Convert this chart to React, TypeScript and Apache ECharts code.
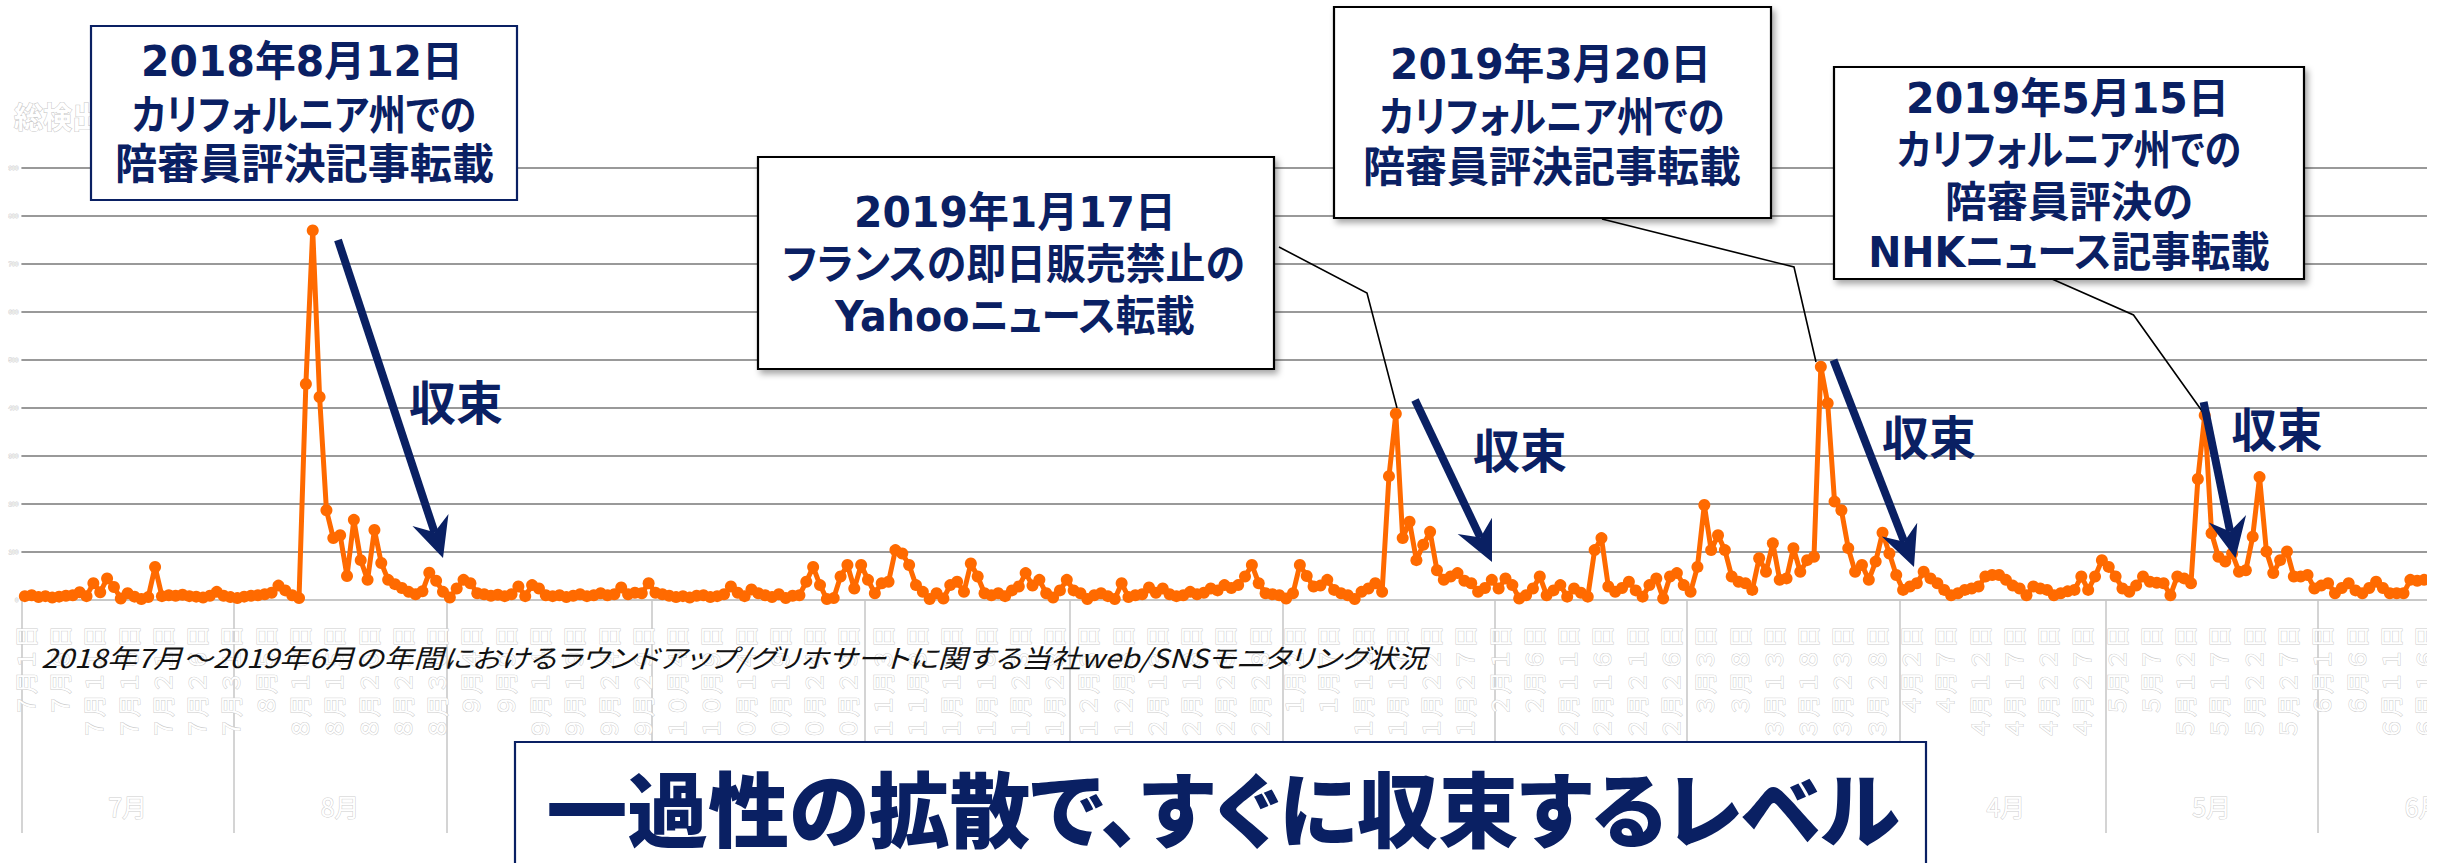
import React, { useEffect, useRef } from 'react';
import * as echarts from 'echarts';

// ---------- data ----------
const monthNumbers = [7, 8, 9, 10, 11, 12, 1, 2, 3, 4, 5, 6];
const monthLengths = [31, 31, 30, 31, 30, 31, 31, 28, 31, 30, 31, 30];
const yAxisMax = 900;
const yAxisStep = 100;

// daily detections from 2018-07-01 (the picture is cut off after 2019-06-16)
const detections: number[] = [
  8, 10, 6, 8, 5, 7, 9, 10, 16, 8,
  35, 16, 45, 27, 3, 14, 7, 2, 6, 69,
  8, 10, 9, 11, 8, 7, 5, 9, 17, 9,
  6, 4, 7, 9, 10, 12, 15, 30, 20, 10,
  4, 450, 770, 423, 187, 129, 135, 50, 167, 83,
  42, 146, 77, 42, 33, 25, 17, 12, 18, 57,
  40, 17, 5, 24, 42, 35, 14, 12, 9, 11,
  8, 12, 28, 8, 31, 24, 10, 8, 10, 6,
  9, 12, 8, 10, 14, 10, 12, 26, 12, 15,
  14, 35, 15, 12, 9, 6, 8, 5, 9, 10,
  6, 8, 12, 28, 15, 8, 22, 14, 10, 6,
  12, 4, 9, 10, 38, 69, 31, 2, 4, 49,
  73, 24, 73, 42, 14, 35, 38, 104, 97, 73,
  31, 17, 2, 14, 3, 31, 38, 17, 76, 49,
  14, 10, 14, 8, 20, 28, 56, 30, 42, 14,
  5, 20, 42, 20, 14, 2, 10, 14, 8, 2,
  35, 6, 10, 12, 26, 15, 24, 12, 8, 10,
  17, 12, 15, 24, 20, 31, 25, 31, 49, 73,
  35, 14, 12, 10, 3, 14, 73, 50, 28, 30,
  42, 21, 14, 10, 2, 17, 24, 35, 17, 258,
  388, 129, 163, 83, 115, 142, 62, 42, 49, 56,
  40, 35, 17, 25, 42, 24, 45, 31, 3, 10,
  24, 49, 10, 20, 31, 7, 24, 15, 7, 104,
  129, 28, 17, 25, 38, 20, 7, 31, 45, 3,
  49, 56, 31, 17, 69, 198, 104, 135, 104, 49,
  38, 35, 21, 87, 59, 118, 42, 45, 108, 59,
  83, 90, 486, 410, 205, 187, 108, 59, 73, 42,
  80, 140, 97, 52, 21, 28, 35, 59, 45, 35,
  21, 10, 14, 21, 24, 28, 49, 52, 52, 42,
  30, 24, 10, 28, 24, 21, 10, 14, 18, 21,
  49, 21, 49, 83, 69, 49, 24, 17, 30, 49,
  38, 36, 35, 10, 49, 45, 35, 252, 385, 139,
  90, 80, 97, 59, 62, 132, 256, 101, 56, 83,
  101, 49, 49, 52, 24, 30, 35, 14, 25, 35,
  20, 14, 25, 38, 25, 14, 14, 14, 42, 40, 42,
];

const calloutAug = ['2018年8月12日', 'カリフォルニア州での', '陪審員評決記事転載'];
const calloutJan = ['2019年1月17日', 'フランスの即日販売禁止の', 'Yahooニュース転載'];
const calloutMar = ['2019年3月20日', 'カリフォルニア州での', '陪審員評決記事転載'];
const calloutMay = ['2019年5月15日', 'カリフォルニア州での', '陪審員評決の', 'NHKニュース記事転載'];
const convergeLabel = '収束';
const subtitle =
  '2018年7月～2019年6月の年間におけるラウンドアップ/グリホサートに関する当社web/SNSモニタリング状況';
const conclusion = '一過性の拡散で、すぐに収束するレベル';
const yAxisTitle = '総検出件数';

// ---------- categories ----------
const toWide = (n: number) =>
  String(n).replace(/[0-9]/g, (c) => String.fromCharCode(c.charCodeAt(0) + 0xfee0));
const categories: string[] = [];
const monthStart = new Set<number>();
const monthMid = new Map<number, string>();
monthNumbers.forEach((m, k) => {
  const start = categories.length;
  monthStart.add(start);
  monthMid.set(start + Math.floor(monthLengths[k] / 2), `${m}月`);
  for (let d = 1; d <= monthLengths[k]; d++) categories.push(`${toWide(m)}月${toWide(d)}日`);
});
const seriesData = categories.map((_, i) => (i < detections.length ? detections[i] : null));

// ---------- layout ----------
const W = 2450;
const H = 863;
const GRID_LEFT = 21.4;
const GRID_TOP = 168;
const AXIS_Y = 600;
const DAY_W = 6.855;
const CHART_W = Math.ceil(GRID_LEFT + DAY_W * categories.length) + 4;
const NAVY = '#0a2063';
const ORANGE = '#ff6a00';
// PaltOn is a marker family (not installed) that switches on proportional kana via CSS
const JP = '"Noto Sans CJK JP", PaltOn, sans-serif';
const BOX_FONT = 'bold 42px "DejaVu Sans", "Noto Sans CJK JP", PaltOn, sans-serif';

export default function App() {
  const ref = useRef<HTMLDivElement>(null);

  useEffect(() => {
    const el = ref.current;
    if (!el) return;
    const chart = echarts.init(el, undefined, { renderer: 'svg', width: CHART_W, height: H });

    const probe = document.createElement('span');
    probe.style.cssText = 'position:absolute;left:-9999px;top:0;white-space:pre;visibility:hidden;';
    document.body.appendChild(probe);
    const measure = (text: string, font: string) => {
      probe.style.font = font;
      probe.style.fontFeatureSettings = '"palt"';
      probe.textContent = text;
      return probe.getBoundingClientRect().width || 1;
    };

    const fitText = (
      text: string,
      font: string,
      x: number,
      y: number,
      width: number,
      fill: string,
      align: string = 'center',
      z = 120,
      extra: any = {}
    ) => ({
      type: 'text',
      x,
      y,
      scaleX: width / measure(text, font),
      z,
      silent: true,
      style: {
        text,
        font,
        fill,
        textAlign: align,
        textVerticalAlign: 'middle',
        align,
        verticalAlign: 'middle',
        ...extra,
      },
    });

    const box = (x: number, y: number, w: number, h: number, stroke: string, shadow: boolean) => ({
      type: 'rect',
      z: 100,
      silent: true,
      shape: { x, y, width: w, height: h },
      style: {
        fill: '#ffffff',
        stroke,
        lineWidth: 2.2,
        ...(shadow
          ? { shadowBlur: 6, shadowOffsetX: 3, shadowOffsetY: 4, shadowColor: 'rgba(0,0,0,0.35)' }
          : {}),
      },
    });

    const leader = (pts: number[][]) => ({
      type: 'polyline',
      z: 105,
      silent: true,
      shape: { points: pts },
      style: { stroke: '#000000', lineWidth: 1.6, fill: null },
    });

    const arrow = (x1: number, y1: number, x2: number, y2: number) => {
      const dx = x2 - x1;
      const dy = y2 - y1;
      const L = Math.hypot(dx, dy);
      const ux = dx / L;
      const uy = dy / L;
      const px = -uy;
      const py = ux;
      const head = 40;
      const half = 19;
      const notch = 13;
      const bx = x2 - ux * head;
      const by = y2 - uy * head;
      const nx = x2 - ux * (head - notch);
      const ny = y2 - uy * (head - notch);
      return [
        {
          type: 'line',
          z: 110,
          silent: true,
          shape: { x1, y1, x2: nx, y2: ny },
          style: { stroke: NAVY, lineWidth: 8 },
        },
        {
          type: 'polygon',
          z: 111,
          silent: true,
          shape: {
            points: [
              [x2, y2],
              [bx + px * half, by + py * half],
              [nx, ny],
              [bx - px * half, by - py * half],
            ],
          },
          style: { fill: NAVY },
        },
      ];
    };

    const lines = (texts: string[], spec: number[][]) =>
      texts.map((t, i) => fitText(t, BOX_FONT, spec[i][0], spec[i][1], spec[i][2], NAVY));

    const graphics: any[] = [
      // faint y-axis title
      fitText(yAxisTitle, `bold 30px ${JP}`, 14, 115, 145, '#ffffff', 'left', 60, {
        stroke: '#c8c8c8',
        lineWidth: 1.1,
      }),
      // cut-off right edge
      {
        type: 'rect',
        z: 95,
        silent: true,
        shape: { x: 2427, y: 0, width: CHART_W - 2427 + 10, height: H },
        style: { fill: '#ffffff' },
      },
      // callout 1
      box(91, 26, 426, 174, NAVY, false),
      ...lines(calloutAug, [
        [302, 62, 322],
        [304, 115, 344],
        [304.5, 165, 379],
      ]),
      // callout 2
      box(758, 157, 516, 212, '#000000', true),
      ...lines(calloutJan, [
        [1015, 213, 322],
        [1013.5, 265, 463],
        [1015, 317, 360],
      ]),
      leader([
        [1279, 247],
        [1367, 293],
        [1397, 408],
      ]),
      // callout 3
      box(1334, 7, 437, 211, '#000000', true),
      ...lines(calloutMar, [
        [1550.5, 65, 321],
        [1552, 117, 345],
        [1552, 167, 378],
      ]),
      leader([
        [1602, 219],
        [1794, 267],
        [1816, 362],
      ]),
      // callout 4
      box(1834, 67, 470, 212, '#000000', true),
      ...lines(calloutMay, [
        [2067.5, 98, 323],
        [2069, 150, 344],
        [2069, 202, 248],
        [2069, 253, 402],
      ]),
      leader([
        [2052, 279],
        [2133.5, 315],
        [2207, 418],
      ]),
      // convergence arrows
      ...arrow(338, 240, 443, 558),
      ...arrow(1415, 400, 1492, 562),
      ...arrow(1833.5, 360, 1914, 567),
      ...arrow(2203.6, 402, 2235.5, 558),
      fitText(convergeLabel, `bold 47px ${JP}`, 456, 399, 94, NAVY),
      fitText(convergeLabel, `bold 47px ${JP}`, 1520, 447, 94, NAVY),
      fitText(convergeLabel, `bold 47px ${JP}`, 1929, 434, 94, NAVY),
      fitText(convergeLabel, `bold 47px ${JP}`, 2277, 426, 91, NAVY),
      // subtitle
      fitText(subtitle, `italic 26px ${JP}`, 41, 657, 1387, '#111111', 'left', 115),
      // conclusion box
      box(515, 742, 1411, 140, NAVY, false),
      fitText(conclusion, `900 82px ${JP}`, 1223, 805, 1354, NAVY),
    ];

    document.body.removeChild(probe);

    const faint = {
      color: '#ffffff',
      textBorderColor: '#cdcdcd',
      textBorderWidth: 1,
      fontFamily: '"Noto Sans CJK JP", sans-serif',
    };

    chart.setOption({
      animation: false,
      backgroundColor: '#ffffff',
      grid: {
        left: GRID_LEFT,
        top: GRID_TOP,
        width: DAY_W * categories.length,
        height: AXIS_Y - GRID_TOP,
        containLabel: false,
      },
      xAxis: [
        {
          type: 'category',
          data: categories,
          boundaryGap: true,
          axisLine: { show: true, lineStyle: { color: '#c8c8c8', width: 2 } },
          axisTick: {
            show: true,
            interval: (i: number) => monthStart.has(i),
            length: 233,
            lineStyle: { color: '#c6c6c6', width: 1.5 },
          },
          axisLabel: {
            interval: (i: number) => i % 5 === 0 && i < detections.length,
            rotate: 90,
            margin: 25,
            fontSize: 23,
            ...faint,
          },
          splitLine: { show: false },
        },
        {
          type: 'category',
          data: categories,
          boundaryGap: true,
          position: 'bottom',
          axisLine: { show: false },
          axisTick: { show: false },
          axisLabel: {
            interval: (i: number) => monthMid.has(i),
            formatter: (_v: string, i: number) => monthMid.get(i) || '',
            margin: 193,
            fontSize: 25,
            ...faint,
          },
          splitLine: { show: false },
        },
      ],
      yAxis: {
        type: 'value',
        min: 0,
        max: yAxisMax,
        interval: yAxisStep,
        axisLine: { show: false },
        axisTick: { show: false },
        axisLabel: {
          fontSize: 6,
          margin: 3,
          color: '#ffffff',
          textBorderColor: '#cccccc',
          textBorderWidth: 0.8,
        },
        splitLine: { show: true, showMinLine: false, lineStyle: { color: '#999999', width: 2 } },
      },
      series: [
        {
          type: 'line',
          data: seriesData,
          xAxisIndex: 0,
          symbol: 'circle',
          symbolSize: 12,
          showSymbol: true,
          showAllSymbol: true,
          lineStyle: { color: ORANGE, width: 5 },
          itemStyle: { color: ORANGE },
          z: 3,
        },
      ],
      graphic: graphics,
    });

    return () => chart.dispose();
  }, []);

  return (
    <>
      <style>{`svg text[style*="PaltOn"]{font-feature-settings:"palt" !important;}`}</style>
      <div
        style={{
          position: 'absolute',
          left: 0,
          top: 0,
          width: W,
          height: H,
          background: '#ffffff',
          overflow: 'hidden',
        }}
      >
        <div ref={ref} style={{ width: CHART_W, height: H }} />
      </div>
    </>
  );
}
